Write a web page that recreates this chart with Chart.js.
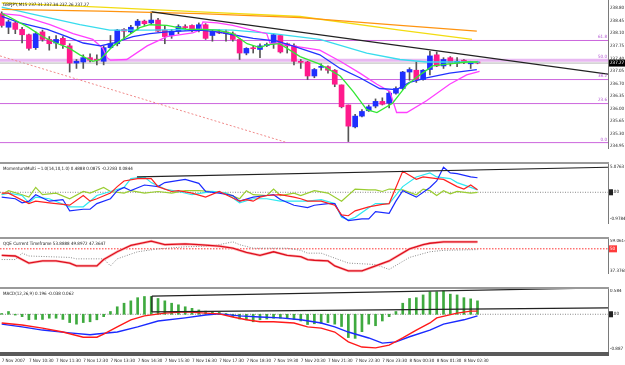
<!DOCTYPE html>
<html><head><meta charset="utf-8">
<script src="https://cdn.jsdelivr.net/npm/chart.js@4.4.1/dist/chart.umd.min.js"></script>
<style>
html,body{margin:0;padding:0;background:#fff;}
#wrap{position:relative;width:625px;height:365px;overflow:hidden;background:#fff;}
canvas{position:absolute;left:0;}
.sep{position:absolute;left:0;width:609px;height:2px;background:#9a9a9a;}
.ttl{position:absolute;left:3px;font:4.5px 'DejaVu Sans Condensed','DejaVu Sans',sans-serif;color:#222;white-space:nowrap;}
</style></head><body>
<div id="wrap">
<canvas id="c1" width="625" height="162" style="top:0"></canvas>
<div class="sep" style="top:162px"></div>
<canvas id="c2" width="625" height="73" style="top:164px"></canvas>
<div class="sep" style="top:237px"></div>
<canvas id="c3" width="625" height="48" style="top:239px"></canvas>
<div class="sep" style="top:287px"></div>
<canvas id="c4" width="625" height="76" style="top:289px"></canvas>
<div style="position:absolute;left:0;top:352px;width:609px;height:4px;background:#5a5a5a"></div>
<div class="ttl" style="top:2px">GBPJPY,M15 237.31 237.34 237.26 237.27</div>
<div class="ttl" style="top:166px">MomentumMulti ~1.0(14,10,1.0) 0.4888 0.0875 -0.2283 0.0844</div>
<div class="ttl" style="top:241px">QQE Current Timeframe 53.8888 49.8972 47.3647</div>
<div class="ttl" style="top:291px">MACD(12,26,9) 0.196 -0.038 0.062</div>
</div>
<script>
// ---------- DATA ----------
const timeIdx = [0,4,8,12,16,20,24,28,32,36,40,44,48,52,56,60,64,68];
const timeLabels = ["7 Nov 2007","7 Nov 10:30","7 Nov 11:30","7 Nov 12:30","7 Nov 13:30","7 Nov 14:30","7 Nov 15:30","7 Nov 16:30","7 Nov 17:30","7 Nov 18:30","7 Nov 19:30","7 Nov 20:30","7 Nov 21:30","7 Nov 22:30","7 Nov 23:30","8 Nov 00:30","8 Nov 01:30","8 Nov 02:30"];

const open = [238.65,238.27,238.39,238.21,238.06,237.70,238.14,237.93,237.83,237.96,
 237.75,237.27,237.30,237.42,237.36,237.32,237.70,237.81,238.21,238.14,
 238.32,238.44,238.39,238.47,238.19,238.04,238.16,238.27,238.32,238.19,
 238.34,238.04,238.14,238.14,238.09,237.93,237.55,237.68,237.65,237.76,
 237.81,238.04,237.81,237.75,237.30,237.30,236.91,237.15,237.17,237.07,
 236.66,236.10,235.49,235.79,235.94,236.07,236.20,236.15,236.43,236.56,
 237.02,237.07,236.81,237.09,237.50,237.19,237.42,237.27,237.35,237.25,
 237.30];
const high = [238.70,238.47,238.42,238.27,238.08,238.14,238.19,238.01,238.04,238.01,
 237.81,237.37,237.50,237.53,237.50,237.75,238.04,238.21,238.23,238.32,
 238.49,238.47,238.70,238.52,238.32,238.21,238.34,238.34,238.34,238.39,
 238.37,238.21,238.21,238.19,238.14,237.96,237.70,237.75,237.81,237.83,
 238.09,238.06,237.83,237.81,237.37,237.32,237.12,237.25,237.19,237.09,
 236.66,236.10,235.84,235.97,236.10,236.27,236.30,236.48,236.61,237.04,
 237.14,237.30,237.09,237.60,237.58,237.42,237.45,237.42,237.37,237.32,
 237.32];
const low = [238.27,238.09,238.09,237.83,237.63,237.65,237.88,237.63,237.68,237.68,
 237.02,237.12,237.12,237.30,237.22,237.22,237.68,237.75,237.93,238.09,
 238.19,238.32,238.34,238.14,237.81,237.96,238.09,238.19,238.14,238.14,
 237.93,237.88,238.09,237.88,237.88,237.37,237.50,237.55,237.42,237.73,
 237.68,237.55,237.55,237.22,237.12,236.81,236.86,237.07,236.99,236.61,
 236.02,235.08,235.46,235.77,235.92,236.02,236.10,236.02,236.40,236.53,
 236.79,236.73,236.79,236.94,237.17,237.12,237.19,237.17,237.25,237.12,
 237.25];
const close = [238.32,238.42,238.21,238.06,237.68,238.09,237.93,237.81,237.93,237.78,
 237.27,237.32,237.42,237.35,237.35,237.70,237.81,238.19,238.16,238.27,
 238.44,238.37,238.47,238.16,238.01,238.16,238.29,238.26,238.19,238.34,
 237.96,238.16,238.11,238.09,237.93,237.55,237.68,237.67,237.75,237.78,
 238.06,237.58,237.75,237.32,237.29,236.91,237.09,237.17,237.07,236.68,
 236.05,235.51,235.79,235.92,236.05,236.20,236.12,236.43,236.56,237.02,
 237.09,236.81,237.07,237.47,237.19,237.37,237.27,237.32,237.30,237.30,
 237.27];

const maGreen = [[0,238.65],[1,238.57],[4,238.26],[6,238.01],[8,237.83],[10,237.68],[11.5,237.50],[13.4,237.32],[14.5,237.37],[16.4,237.75],[18.4,238.01],[20.3,238.26],[21.8,238.34],[24.3,238.32],[27.3,238.21],[29.2,238.21],[31.7,238.19],[34,238.09],[36.1,237.81],[38,237.70],[39,237.78],[40.9,237.81],[43.9,237.45],[46.8,237.24],[49.8,236.91],[51.7,236.48],[53.7,235.97],[55.2,235.89],[57.5,236.15],[59.6,236.66],[61.9,236.99],[63.4,237.19],[65.5,237.24],[68.4,237.30],[70,237.30]];
const maBlue = [[0,238.57],[2.7,238.39],[6.7,238.21],[9.6,238.01],[12,237.83],[14.5,237.75],[16.4,237.83],[19.3,238.01],[21.8,238.09],[24.3,238.14],[29.2,238.19],[31.7,238.14],[34,238.06],[37,237.96],[40.5,237.88],[42.8,237.75],[46.8,237.50],[49.8,237.12],[52.7,236.86],[55.6,236.56],[58.1,236.53],[60,236.73],[62.5,236.86],[65.9,236.99],[69.9,237.09]];
const maMagenta = [[0,238.65],[2.7,238.60],[7.1,238.34],[10.5,238.09],[13.4,237.93],[14.9,237.68],[15.5,237.42],[16,237.35],[18.4,237.37],[21.4,237.75],[24.3,238.01],[28.1,238.11],[29.2,238.19],[29.6,238.42],[31.7,238.39],[34,238.32],[39,238.09],[39.5,237.81],[40.5,237.83],[42.8,237.75],[46.8,237.63],[49.8,237.32],[52.7,236.99],[55.2,236.68],[57.1,236.48],[58.1,235.89],[59.6,235.89],[62.5,236.22],[65.9,236.68],[68.4,236.94],[70.3,237.04]];
const maCyan = [[0,238.83],[4.2,238.65],[11.5,238.34],[15.9,238.19],[21.8,238.19],[29.2,238.21],[34,238.19],[39.9,238.09],[46.8,237.93],[48.7,237.83],[53.7,237.55],[58.6,237.37],[62.5,237.30],[70.3,237.30]];
const maYellow = [[0,238.95],[14.5,238.83],[29.2,238.70],[43.9,238.57],[58.6,238.19],[69.2,237.93]];
const maOrange = [[0,238.77],[14.5,238.72],[29.2,238.65],[43.9,238.54],[58.6,238.32],[69.9,238.16]];
const trendMain = [[22.1,238.70],[89.2,236.96]];
const redDotted = [[-0.25,237.47],[42,235.05]];
const fibLevels = [237.90,237.35,236.81,236.14,235.05];
const fibNames = ["61.8","50.0","38.2","23.6","0.0"];
const mainTicks = [238.80,238.45,238.10,237.75,237.40,237.05,236.70,236.35,236.00,235.65,235.30,234.95];

const momRed = [[0,-0.03],[1,-0.03],[4,-0.42],[5,-0.33],[7,-0.39],[10,-0.48],[12,-0.12],[13,-0.33],[14,-0.24],[16,-0.03],[17,0.21],[18,0.42],[20,0.51],[22,0.51],[23,0.21],[25,0.03],[26,0.06],[28,-0.03],[30,-0.18],[32,0.03],[33,-0.09],[35,-0.33],[36,-0.27],[37,-0.33],[38,-0.18],[39,-0.12],[41,-0.09],[43,-0.18],[44,-0.24],[45,-0.33],[47,-0.33],[49,-0.48],[50,-0.84],[51,-0.87],[52,-0.69],[54,-0.54],[56,-0.45],[57,-0.42],[59,0.78],[61,0.48],[62,0.57],[64,0.51],[65,0.48],[67,0.21],[68,0.12],[69,0.27],[70,0.09]];
const momBlue = [[0,-0.18],[2,-0.24],[3,-0.39],[4,-0.33],[5,-0.09],[7,-0.33],[9,-0.27],[10,-0.69],[12,-0.63],[13,-0.63],[14,-0.42],[16,-0.24],[17,0.06],[18,0.18],[19,0.06],[21,0.27],[23,0.21],[24,0.36],[27,0.48],[29,0.33],[30,0.03],[32,-0.03],[34,-0.12],[35,-0.33],[37,-0.18],[39,-0.12],[40,-0.09],[41,-0.27],[43,-0.48],[45,-0.57],[46,-0.48],[48,-0.42],[49,-0.42],[50,-0.87],[51,-1.05],[53,-0.99],[54,-0.99],[55,-0.72],[57,-0.78],[58,-0.33],[59,0.06],[61,-0.18],[63,0.18],[64,0.42],[65,0.93],[66,0.72],[67,0.69],[69,0.57],[70,0.54]];
const momCyan = [[0,-0.09],[1,-0.03],[3,-0.12],[4,-0.39],[5,-0.18],[7,-0.24],[10,-0.54],[12,-0.54],[13,-0.33],[14,-0.12],[16,0.03],[18,0.18],[19,0.51],[21,0.57],[22,0.36],[24,0.12],[26,0.03],[28,-0.09],[31,0.03],[33,-0.03],[35,-0.39],[37,-0.24],[39,-0.24],[41,-0.33],[43,-0.33],[45,-0.33],[47,-0.27],[49,-0.42],[50,-0.93],[51,-1.02],[52,-0.93],[54,-0.57],[55,-0.42],[57,-0.42],[59,0.21],[61,0.57],[63,0.72],[64,0.57],[66,0.51],[67,0.36],[69,0.18],[70,0.09]];
const momOlive = [[0,-0.09],[1,0.06],[3,-0.09],[4,-0.18],[5,0.18],[6,-0.09],[8,-0.03],[10,-0.24],[12,0.03],[13,-0.03],[15,0.18],[16,0.03],[18,-0.03],[19,0.06],[21,-0.03],[23,0.03],[25,-0.03],[27,0.06],[29,0.06],[31,0.03],[33,-0.03],[35,-0.24],[36,0.06],[37,-0.09],[39,-0.12],[40,0.12],[41,-0.12],[43,-0.03],[44,-0.12],[46,0.06],[48,-0.03],[50,-0.33],[52,0.12],[54,0.09],[55,0.09],[56,0.03],[57,0.12],[59,0.09],[61,-0.09],[62,0.12],[63,0.06],[64,-0.12],[65,0.06],[66,-0.06],[67,0.03],[69,-0.03],[70,0.00]];
const momTrend = [[19.9,0.57],[89.2,0.93]];
const momTickVals = [0.96,0,-0.98];
const momTickLabels = ["5.0763","0.00","-0.9784"];

const qqeRed = [[0,43.57],[2,42.87],[4,35.83],[6,37.94],[8,37.94],[10,35.83],[11,33.01],[14,33.01],[15,39.35],[17,47.09],[19,53.43],[22,57.65],[24,54.13],[27,54.84],[29,54.13],[32,52.73],[34,50.61],[36,46.39],[38,43.57],[40,47.09],[42,43.57],[44,42.17],[45,39.35],[46,38.65],[48,37.94],[49,33.01],[51,28.09],[53,28.09],[55,33.01],[57,37.94],[60,49.91],[62,54.13],[63,55.54],[65,56.95],[67,56.95],[70,56.95]];
const qqeSlow = [[0,39.35],[2,39.35],[3,45.69],[4,42.87],[10,41.46],[11,40.05],[15,40.05],[16,33.01],[17,40.05],[20,47.09],[23,49.91],[27,52.02],[31,52.73],[34,56.95],[35,54.13],[37,50.61],[42,50.61],[44,48.50],[45,45.69],[47,45.69],[51,35.83],[55,34.42],[57,29.49],[60,41.46],[63,47.09],[65,48.50],[70,49.21]];
const qqeLevel = 50;
const qqeTickVals = [58.36,28.09];
const qqeTickLabels = ["59.0614","37.3768"];

const macdHist = [0.02,0.07,-0.02,-0.06,-0.14,-0.13,-0.13,-0.10,-0.10,-0.13,
 -0.21,-0.25,-0.21,-0.19,-0.14,-0.06,0.07,0.19,0.28,0.34,
 0.42,0.45,0.45,0.40,0.34,0.28,0.24,0.19,0.15,0.11,
 0.08,0.07,0.05,0.02,-0.06,-0.12,-0.14,-0.19,-0.14,-0.12,
 -0.10,-0.10,-0.10,-0.13,-0.17,-0.26,-0.24,-0.23,-0.21,-0.25,
 -0.31,-0.59,-0.61,-0.44,-0.25,-0.29,-0.17,-0.06,0.07,0.28,
 0.40,0.42,0.49,0.57,0.57,0.59,0.51,0.49,0.42,0.39,0.34];
const macdRed = [[0,-0.22],[3,-0.27],[6,-0.35],[9,-0.45],[12,-0.58],[14,-0.58],[15,-0.50],[17,-0.32],[19,-0.14],[21,-0.04],[24,0.03],[27,0.06],[30,0.03],[32,0.01],[34,-0.07],[36,-0.14],[38,-0.19],[40,-0.19],[43,-0.22],[45,-0.32],[47,-0.35],[49,-0.45],[51,-0.70],[53,-0.83],[55,-0.85],[57,-0.78],[59,-0.60],[61,-0.40],[63,-0.22],[64,-0.09],[67,0.03],[69,0.08],[70,0.08]];
const macdBlue = [[0,-0.25],[3,-0.32],[6,-0.40],[10,-0.47],[13,-0.52],[14,-0.50],[17,-0.45],[20,-0.32],[23,-0.17],[27,-0.09],[30,-0.02],[32,0.01],[35,-0.04],[38,-0.07],[41,-0.09],[44,-0.14],[47,-0.22],[49,-0.32],[51,-0.45],[54,-0.60],[56,-0.73],[58,-0.70],[60,-0.57],[63,-0.40],[65,-0.25],[68,-0.14],[70,-0.04]];
const macdUpper = [[22.1,0.46],[89.2,0.67]];
const macdLower = [[22.1,0.06],[89.2,0.16]];
const macdVert = [[22.1,0.06],[22.1,0.46]];
const macdTickVals = [0.584,0,-0.887];
const macdTickLabels = ["0.584","0.00","-0.887"];

// ---------- HELPERS ----------
const FONT = "'DejaVu Sans Condensed','DejaVu Sans',sans-serif";
const X_MIN = -0.25, X_MAX = 89.2;
const pts = a => a.map(([x,y]) => ({x,y}));
const span = v => [{x:X_MIN,y:v},{x:X_MAX,y:v}];
function line(data, color, width, extra) {
  return Object.assign({type:'line', data, borderColor:color, borderWidth:width, pointRadius:0, tension:0, fill:false, order:0}, extra||{});
}
function yAxis(min, max, vals, labels) {
  return {type:'linear', position:'right', min, max,
    grid:{display:false, drawTicks:false},
    border:{display:true, color:'#7a7a7a', width:1},
    ticks:{autoSkip:false, padding:2, color:'#222', font:{size:4.5, family:FONT}, callback:(v,i)=>labels[i]},
    afterBuildTicks:s=>{ s.ticks = vals.map(v=>({value:v})); },
    afterFit:s=>{ s.width = 17; s.paddingTop = 0; s.paddingBottom = 0; }};
}
function xAxis(show) {
  return {type:'linear', min:X_MIN, max:X_MAX, offset:false, display:show,
    grid:{display:false, drawTicks:false}, border:{display:false},
    ticks:{autoSkip:false, maxRotation:0, minRotation:0, align:'start', padding:7, color:'#222', font:{size:4.5, family:FONT}, callback:(v,i)=>timeLabels[i]},
    afterBuildTicks:s=>{ s.ticks = timeIdx.map(v=>({value:v})); },
    afterFit:s=>{ s.height = 14; s.paddingLeft = 0; s.paddingRight = 0; }};
}
function opts(x, y) {
  return {responsive:false, animation:false, events:[], layout:{padding:0},
    plugins:{legend:{display:false}, tooltip:{enabled:false}},
    scales:{x, y}};
}
function axisBox(chart, value, fill, text, w) {
  const c = chart.ctx, ys = chart.scales.y, yy = ys.getPixelForValue(value);
  c.save();
  c.fillStyle = fill; c.fillRect(chart.chartArea.right+1, yy-3.5, w, 7);
  c.fillStyle = '#fff'; c.font = '4.5px ' + FONT; c.textBaseline = 'middle'; c.textAlign = 'left';
  c.fillText(text, chart.chartArea.right+2, yy);
  c.restore();
}

// ---------- MAIN PRICE PANEL ----------
const bull = '#1f2fff', bear = '#ff1a8c';
const bodies = open.map((o,i)=>({x:i, y:[Math.min(o,close[i]), Math.max(o,close[i])]}));
const wicks = open.map((o,i)=>({x:i, y:[low[i], high[i]]}));
const bodyColors = open.map((o,i)=> close[i] >= o ? bull : bear);
const lastClose = close[close.length-1];

const mainDatasets = [];
fibLevels.forEach((lv,k)=>{
  mainDatasets.push(line(span(lv), k===1 ? '#e8b8f2' : '#cc66dd', k===1 ? 3 : 1, {order:6}));
});
mainDatasets.push(line(span(lastClose), '#b5b5b5', 1, {order:5}));
mainDatasets.push(line(pts(redDotted), '#f08a8a', 1, {order:5, borderDash:[2,2]}));
mainDatasets.push({type:'bar', data:wicks, backgroundColor:'#555', barThickness:1, grouped:false, order:4});
mainDatasets.push({type:'bar', data:bodies, backgroundColor:bodyColors, barThickness:5, grouped:false, minBarLength:1, order:3});
mainDatasets.push(line(pts(maOrange), '#ff9410', 1.3, {order:2}));
mainDatasets.push(line(pts(maYellow), '#f2dc10', 1.3, {order:2}));
mainDatasets.push(line(pts(maCyan), '#38dced', 1.3, {order:2}));
mainDatasets.push(line(pts(maMagenta), '#ff40ff', 1.3, {order:1.5}));
mainDatasets.push(line(pts(maBlue), '#2233ff', 1.3, {order:1.2}));
mainDatasets.push(line(pts(maGreen), '#33e833', 1.3, {order:1}));
mainDatasets.push(line(pts(trendMain), '#222', 1.2, {order:0}));

new Chart(document.getElementById('c1'), {
  type:'line', data:{datasets:mainDatasets},
  options:opts(xAxis(false), yAxis(234.90, 239.03, mainTicks, mainTicks.map(v=>v.toFixed(2)))),
  plugins:[{id:'fibText', afterDatasetsDraw(chart){
    const c = chart.ctx, ys = chart.scales.y, r = chart.chartArea.right;
    c.save(); c.font = '4.5px ' + FONT; c.fillStyle = '#b050d0'; c.textAlign = 'right'; c.textBaseline = 'bottom';
    fibLevels.forEach((lv,k)=> c.fillText(fibNames[k], r-1, ys.getPixelForValue(lv)-1));
    c.restore();
    axisBox(chart, lastClose, '#000', lastClose.toFixed(2), 16);
  }}]
});

// ---------- MOMENTUM PANEL ----------
new Chart(document.getElementById('c2'), {
  type:'line', data:{datasets:[
    line(span(0), '#8a8a8a', 1, {order:5, borderDash:[1,1.5]}),
    line(pts(momOlive), '#9acd32', 1.2, {order:4}),
    line(pts(momCyan), '#30e8f0', 1.2, {order:3}),
    line(pts(momBlue), '#1a2aff', 1.2, {order:2}),
    line(pts(momRed), '#ff2020', 1.2, {order:1}),
    line(pts(momTrend), '#222', 1.2, {order:0})
  ]},
  options:opts(xAxis(false), yAxis(-1.14, 1.05, momTickVals, momTickLabels)),
  plugins:[{id:'zbox', afterDatasetsDraw(chart){
    const c = chart.ctx, yy = chart.scales.y.getPixelForValue(0);
    c.save(); c.fillStyle = '#222'; c.fillRect(chart.chartArea.right+1, yy-3, 4, 6); c.restore();
  }}]
});

// ---------- QQE PANEL ----------
new Chart(document.getElementById('c3'), {
  type:'line', data:{datasets:[
    line(span(qqeLevel), '#ff3030', 1, {order:5, borderDash:[1.5,1.5]}),
    line(pts(qqeSlow), '#8a8a8a', 1, {order:4, borderDash:[1,1.5]}),
    line(pts(qqeRed), '#ffb4b4', 2.6, {order:3}),
    line(pts(qqeRed), '#dd0f1e', 1.3, {order:0})
  ]},
  options:opts(xAxis(false), yAxis(25.97, 59.77, qqeTickVals, qqeTickLabels)),
  plugins:[{id:'lvlbox', afterDatasetsDraw(chart){ axisBox(chart, qqeLevel, '#ff3b3b', String(qqeLevel), 8); }}]
});

// ---------- MACD PANEL ----------
new Chart(document.getElementById('c4'), {
  type:'line', data:{datasets:[
    line(span(0), '#8a8a8a', 1, {order:5, borderDash:[1,1.5]}),
    {type:'bar', data:macdHist.map((v,i)=>({x:i,y:v})), backgroundColor:'#3faa3f', barThickness:2, grouped:false, order:4},
    line(pts(macdBlue), '#1a2aff', 1.4, {order:2}),
    line(pts(macdRed), '#ff1a1a', 1.4, {order:1}),
    line(pts(macdUpper), '#222', 1.2),
    line(pts(macdLower), '#222', 1.2),
    line(pts(macdVert), '#222', 1.2)
  ]},
  options:opts(xAxis(true), yAxis(-0.93, 0.64, macdTickVals, macdTickLabels)),
  plugins:[{id:'zbox2', afterDatasetsDraw(chart){
    const c = chart.ctx, yy = chart.scales.y.getPixelForValue(0);
    c.save(); c.fillStyle = '#222'; c.fillRect(chart.chartArea.right+1, yy-3, 4, 6); c.restore();
  }}]
});
</script>
</body></html>
